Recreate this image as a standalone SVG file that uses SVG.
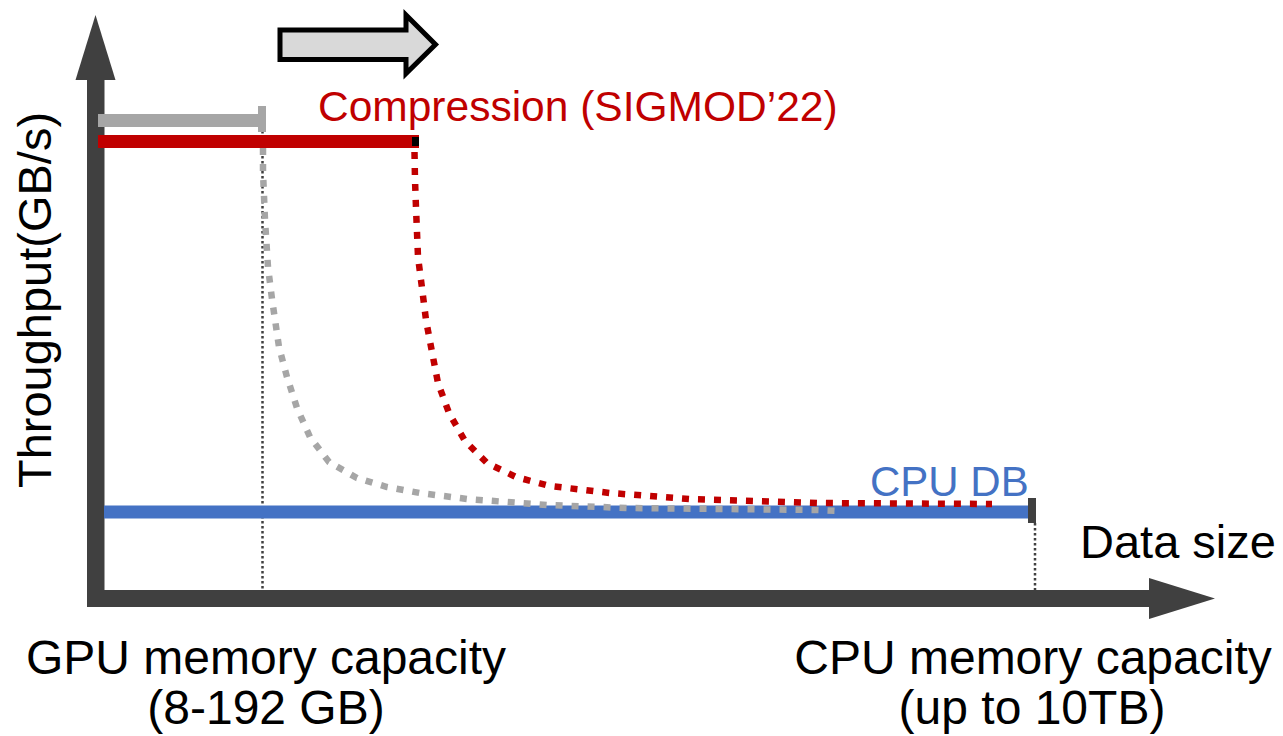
<svg xmlns="http://www.w3.org/2000/svg" width="1283" height="736" viewBox="0 0 1283 736">
  <style>
    .lbl { font-family: "Liberation Sans", Arial, sans-serif; fill: #000; }
    .axis { fill: #404040; }
    .guide { stroke: #404040; stroke-width: 2.5; stroke-dasharray: 2.5 2.5; fill: none; }
    .trend { fill: none; stroke-width: 6.5; stroke-dasharray: 7 9; }
  </style>

  <rect width="1283" height="736" fill="#ffffff"/>

  <!-- axes -->
  <g id="axes">
    <rect class="axis" x="87" y="80" width="17.5" height="527"/>
    <polygon class="axis" points="75.5,80 95.5,15 115.5,80"/>
    <rect class="axis" x="87" y="590" width="1062" height="17"/>
    <polygon class="axis" points="1149,578 1215,598.5 1149,619"/>
    <text class="lbl" font-size="47" transform="translate(51,300) rotate(-90)" text-anchor="middle">Throughput(GB/s)</text>
    <text class="lbl" font-size="47" x="1080" y="558">Data size</text>
  </g>

  <!-- capacity markers -->
  <g id="guides">
    <line class="guide" x1="262.5" y1="131" x2="262.5" y2="590"/>
    <line class="guide" x1="1035" y1="523" x2="1035" y2="590"/>
  </g>

  <!-- CPU DB baseline -->
  <g id="cpu-db">
    <rect x="104" y="505.5" width="926" height="13" fill="#4472c4"/>
    <rect x="1028" y="498" width="8" height="25" fill="#404040"/>
    <text class="lbl" font-size="42" x="870" y="496" style="fill:#4472c4">CPU DB</text>
  </g>

  <!-- GPU-only throughput -->
  <g id="gpu-only">
    <rect x="98" y="114" width="164" height="13" fill="#a6a6a6"/>
    <rect x="258" y="106" width="8" height="26" fill="#a6a6a6"/>
    <path class="trend" stroke="#a6a6a6" d="M263,148 L263,172 L265,220 L268,267 L272,299 L279,347 L287,377 L297,408 L310,437 L329,462 L357,478 L387,487 L420,493 L467,499 L547,505 L627,508 L817,510 L842,511"/>
  </g>

  <!-- compressed GPU throughput -->
  <g id="compression">
    <rect x="98" y="135" width="321" height="13" fill="#c00000"/>
    <rect x="412" y="137" width="7" height="9" fill="#000000"/>
    <path class="trend" stroke="#c00000" d="M414.5,152 L415,180 L416,208 L418,257 L422,288 L426,320 L432,352 L438,383 L449,413 L465,441 L487,463 L516,477 L550,486 L610,493 L690,499 L817,503 L992,504"/>
    <text class="lbl" font-size="42.5" x="318" y="121" style="fill:#c00000">Compression (SIGMOD’22)</text>
  </g>

  <!-- direction arrow -->
  <g id="shift-arrow">
    <path d="M280,30 L406,30 L406,15 L435.5,44.5 L406,73.5 L406,59.5 L280,59.5 Z" fill="#d9d9d9" stroke="#000000" stroke-width="5"/>
  </g>

  <!-- capacity labels -->
  <g id="gpu-capacity">
    <text class="lbl" font-size="48" x="266" y="674" text-anchor="middle">GPU memory capacity</text>
    <text class="lbl" font-size="48" x="266" y="724" text-anchor="middle">(8-192 GB)</text>
  </g>
  <g id="cpu-capacity">
    <text class="lbl" font-size="48" x="1033" y="674" text-anchor="middle">CPU memory capacity</text>
    <text class="lbl" font-size="48" x="1032" y="724" text-anchor="middle">(up to 10TB)</text>
  </g>
</svg>
